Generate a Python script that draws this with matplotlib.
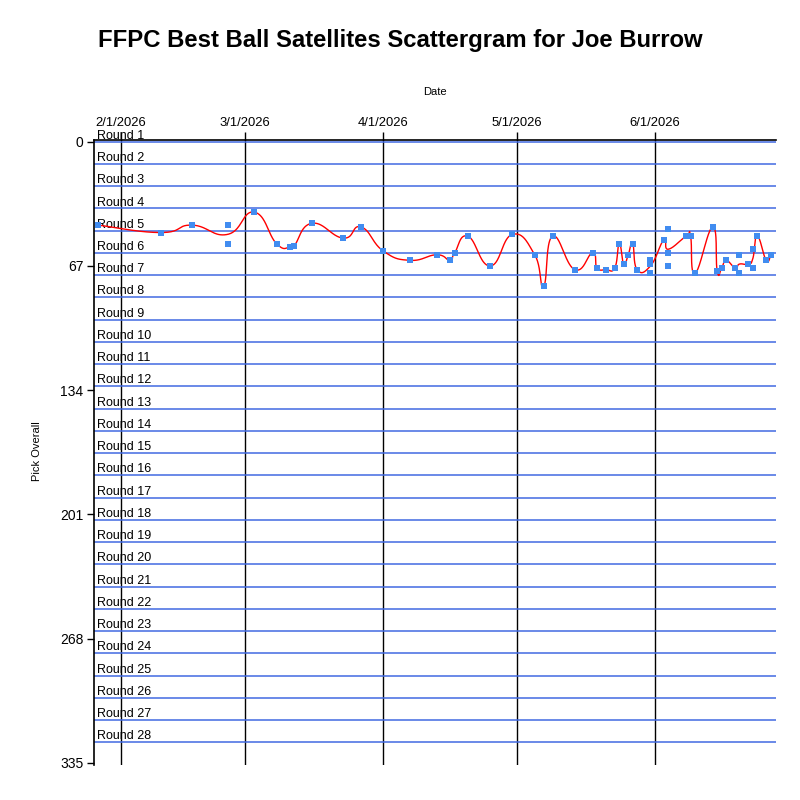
import numpy as np
import pandas as pd
import matplotlib
matplotlib.use("Agg")
import matplotlib.pyplot as plt
import matplotlib.dates as mdates

# ---------------- data ----------------
dates = [
    "2026-01-27", "2026-02-10", "2026-02-17", "2026-02-25", "2026-02-25",
    "2026-03-03", "2026-03-08", "2026-03-11", "2026-03-12", "2026-03-16",
    "2026-03-23", "2026-03-27", "2026-04-01", "2026-04-07", "2026-04-13",
    "2026-04-16", "2026-04-17", "2026-04-20", "2026-04-25", "2026-04-30",
    "2026-05-05", "2026-05-07", "2026-05-09", "2026-05-14", "2026-05-18",
    "2026-05-19", "2026-05-21", "2026-05-23", "2026-05-24", "2026-05-25",
    "2026-05-26", "2026-05-27", "2026-05-28", "2026-05-31", "2026-05-31",
    "2026-05-31", "2026-06-03", "2026-06-04", "2026-06-04", "2026-06-04",
    "2026-06-08", "2026-06-09", "2026-06-10", "2026-06-14", "2026-06-15",
    "2026-06-16", "2026-06-17", "2026-06-19", "2026-06-20", "2026-06-20",
    "2026-06-22", "2026-06-23", "2026-06-23", "2026-06-24", "2026-06-26",
    "2026-06-27",
]
picks = [
    45, 49, 45, 45, 55,
    38, 55, 57, 56, 44,
    52, 46, 59, 64, 61,
    64, 60, 51, 67, 50,
    61, 78, 51, 69, 60,
    68, 69, 68, 55, 66,
    61, 55, 69, 64, 66,
    71, 53, 47, 60, 67,
    51, 51, 71, 46, 70,
    68, 64, 68, 61, 71,
    66, 58, 68, 51, 64,
    61,
]
round_labels = [f"Round {i}" for i in range(1, 29)]
round_size = 12
ytick_values = [0, 67, 134, 201, 268, 335]
xtick_dates = ["2026-02-01", "2026-03-01", "2026-04-01", "2026-05-01", "2026-06-01"]
xtick_labels = ["2/1/2026", "3/1/2026", "4/1/2026", "5/1/2026", "6/1/2026"]
title = "FFPC Best Ball Satellites Scattergram for Joe Burrow"

# ---------------- figure ----------------
plt.rcParams["font.family"] = ["Liberation Sans", "DejaVu Sans"]
fig = plt.figure(figsize=(8, 8), dpi=100)
W = H = 800.0
left_px, right_px, top_px, bot_px = 94.0, 776.0, 140.3, 765.0
ax = fig.add_axes([left_px / W, 1 - bot_px / H, (right_px - left_px) / W, (bot_px - top_px) / H])

x = mdates.date2num(pd.to_datetime(dates))
y = np.array(picks, dtype=float)

# daily means for the trend curve
df = pd.DataFrame({"x": x, "y": y}).groupby("x", as_index=False)["y"].mean()
px = df["x"].to_numpy()
py = df["y"].to_numpy()

# cardinal spline (GDI+ style, tension 0.8)
t = 0.8 * 0.3
cx, cy = [], []
n = len(px)
for i in range(n - 1):
    p0 = np.array([px[i], py[i]])
    p3 = np.array([px[i + 1], py[i + 1]])
    prev = np.array([px[i - 1], py[i - 1]]) if i > 0 else p0
    nxt = np.array([px[i + 2], py[i + 2]]) if i + 2 < n else p3
    if i == 0:
        c1 = p0 + t * (p3 - p0)
    else:
        c1 = p0 + t * (p3 - prev)
    if i + 2 >= n:
        c2 = p3 - t * (p3 - p0)
    else:
        c2 = p3 - t * (nxt - p0)
    s = np.linspace(0, 1, 40)[:, None]
    seg = ((1 - s) ** 3) * p0 + 3 * ((1 - s) ** 2) * s * c1 + 3 * (1 - s) * s ** 2 * c2 + s ** 3 * p3
    cx.extend(seg[:, 0]); cy.extend(seg[:, 1])

# round grid lines
for k in range(0, 28):
    ax.axhline(k * round_size, color="#4169E1", lw=1.1, zorder=1)
for i, lab in enumerate(round_labels):
    ax.text(0.005, i * round_size - 3.2, lab, transform=ax.get_yaxis_transform(),
            ha="left", va="center", fontsize=9, color="black", zorder=2)

ax.plot(cx, cy, color="#FF0000", lw=1.0, zorder=3)
ax.plot(x, y, linestyle="none", marker="s", markersize=4.4,
        color="#418CF0", markeredgewidth=0, zorder=4)

# axes limits
base = mdates.date2num(pd.Timestamp("2026-02-01"))
ax.set_xlim(base - 6.0, base + 147.2)
ax.set_ylim(336.2, -0.75)

ax.xaxis.tick_top()
ax.set_xticks(mdates.date2num(pd.to_datetime(xtick_dates)))
ax.set_xticklabels(xtick_labels, fontsize=9.4)
ax.tick_params(axis="x", direction="out", length=5.8, width=1.0, pad=2.0, color="black")
ax.set_yticks(ytick_values)
ax.set_yticklabels([str(v) for v in ytick_values], fontsize=10)
ax.tick_params(axis="y", direction="out", length=5.2, width=1.0, pad=2.5, color="black")
ax.grid(axis="x", color="black", lw=1.0, zorder=1)
ax.grid(axis="y", visible=False)
ax.set_axisbelow(True)

for side in ["right", "bottom"]:
    ax.spines[side].set_visible(False)
for side in ["left", "top"]:
    ax.spines[side].set_color("black")
    ax.spines[side].set_linewidth(1.2)

fig.text(434.75 / W, 1 - 92 / H, "Date", ha="center", va="center", fontsize=8)
fig.text(37 / W, 1 - 451 / H, "Pick Overall", ha="center", va="center", rotation=90, fontsize=8)
fig.text(400 / W, 1 - 40 / H, title, ha="center", va="center", fontsize=17.2, fontweight="bold")

fig.savefig("out.png", dpi=100)
